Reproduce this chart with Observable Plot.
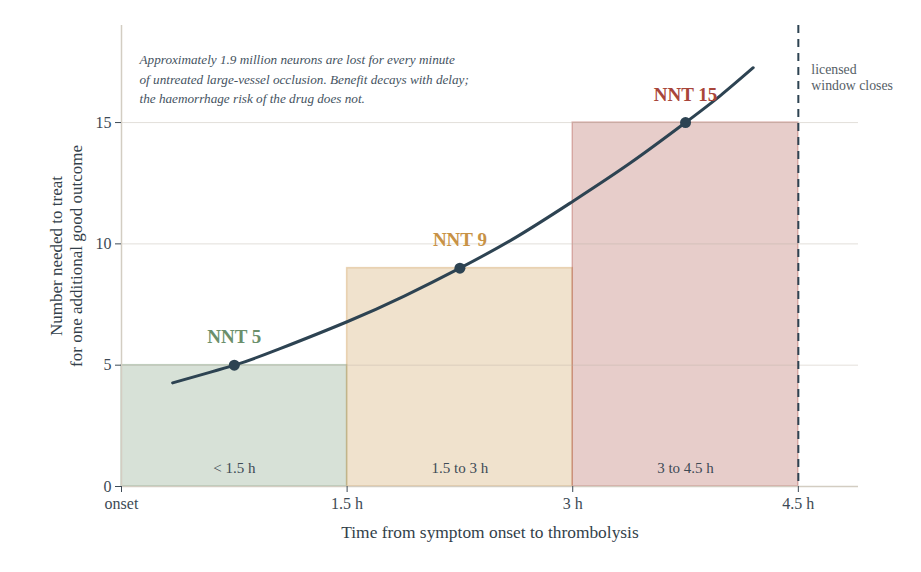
<!DOCTYPE html>
<html>
<head>
<meta charset="utf-8">
<script src="https://cdn.jsdelivr.net/npm/d3@7"></script>
<script src="https://cdn.jsdelivr.net/npm/@observablehq/plot@0.6"></script>
<style>
  html, body { margin: 0; padding: 0; background: #ffffff; }
  #chart { width: 921px; height: 572px; }
</style>
</head>
<body>
<div id="chart"></div>
<script>
// ---- data ----
const binLabels = ["< 1.5 h", "1.5 to 3 h", "3 to 4.5 h"];
const binStart = [0, 1.5, 3];
const binEnd = [1.5, 3, 4.5];
const nnt = [5, 9, 15];
const binColors = ["#6b8f6b", "#c89245", "#a8453a"];

// decay curve (hours, NNT)
const curveHours = [0.34, 0.75, 1.05, 1.5, 1.88, 2.25, 2.63, 3.0, 3.38, 3.75, 3.98, 4.2];
const curveNNT   = [4.27, 5.0, 5.67, 6.79, 7.85, 9.0, 10.3, 11.75, 13.32, 15.0, 16.1, 17.26];

const xTicks = [0, 1.5, 3, 4.5];
const xTickLabels = ["onset", "1.5 h", "3 h", "4.5 h"];
const yTicks = [0, 5, 10, 15];
const windowClose = 4.5;

const annotation = "Approximately 1.9 million neurons are lost for every minute\nof untreated large-vessel occlusion. Benefit decays with delay;\nthe haemorrhage risk of the drug does not.";
const windowNote = "licensed\nwindow closes";
const xLabel = "Time from symptom onset to thrombolysis";
const yLabel = "Number needed to treat\nfor one additional good outcome";

// ---- tables ----
const bins = binLabels.map((label, i) => ({
  label, x1: binStart[i], x2: binEnd[i], mid: (binStart[i] + binEnd[i]) / 2,
  nnt: nnt[i], color: binColors[i]
}));
const curve = curveHours.map((h, i) => ({h, v: curveNNT[i]}));

const ink = "#2d4352";
const axisColor = "#d3cdc2";
const textColor = "#3d4a55";

const chart = Plot.plot({
  width: 921,
  height: 572,
  marginTop: 25,
  marginRight: 63,
  marginBottom: 86,
  marginLeft: 121,
  style: {fontFamily: "'Liberation Serif', serif", fontSize: "16px", color: textColor, background: "#ffffff"},
  x: {domain: [0, 4.9]},
  y: {domain: [0, 19]},
  marks: [
    Plot.rect(bins, {
      x1: "x1", x2: "x2", y1: 0, y2: "nnt",
      fill: d => d.color, fillOpacity: 0.27,
      stroke: d => d.color, strokeOpacity: 0.35, strokeWidth: 1.5
    }),
    Plot.ruleY([5, 10, 15], {stroke: "#b8b2a4", strokeOpacity: 0.4, strokeWidth: 1}),
    Plot.ruleX([0], {stroke: axisColor, strokeWidth: 1.5}),
    Plot.ruleY([0], {stroke: axisColor, strokeWidth: 1.5}),
    Plot.ruleX([windowClose], {stroke: ink, strokeWidth: 2, strokeDasharray: "8,6"}),
    Plot.text([windowNote], {
      x: () => windowClose, frameAnchor: "top", dx: 13, dy: 37,
      textAnchor: "start", lineAnchor: "top", lineHeight: 1.16,
      fontSize: 13.8, fill: "#555e66"
    }),
    Plot.text([annotation], {
      frameAnchor: "top-left", dx: 18, dy: 25,
      textAnchor: "start", lineAnchor: "top", lineHeight: 1.48,
      fontSize: 13.2, fontStyle: "italic", fill: "#45535f"
    }),
    Plot.line(curve, {x: "h", y: "v", curve: "natural", stroke: ink, strokeWidth: 3}),
    Plot.dot(bins, {x: "mid", y: "nnt", r: 5.5, fill: ink}),
    Plot.text(bins, {
      x: "mid", y: "nnt", text: d => "NNT " + d.nnt, dy: -28,
      fill: d => d.color, fontWeight: "bold", fontSize: 19
    }),
    Plot.text(bins, {
      x: "mid", text: "label", frameAnchor: "bottom", dy: -14,
      fill: textColor, fontSize: 15
    }),
    Plot.axisX({
      ticks: xTicks, tickFormat: (d) => xTickLabels[xTicks.indexOf(d)],
      tickSize: 6, tickPadding: 5, stroke: textColor, fill: textColor, fontSize: 16,
      label: null
    }),
    Plot.text([xLabel], {
      frameAnchor: "bottom", dy: 46, lineAnchor: "middle",
      fontSize: 17.4, fill: "#333f4a"
    }),
    Plot.axisY({
      ticks: yTicks, tickSize: 6, tickPadding: 4, stroke: textColor, fill: textColor, fontSize: 16,
      label: null
    }),
    Plot.text([yLabel], {
      frameAnchor: "left", dx: -56, rotate: -90, textAnchor: "middle", lineAnchor: "middle", lineHeight: 1.2,
      fontSize: 17, fill: "#333f4a"
    })
  ]
});
document.getElementById("chart").appendChild(chart);
</script>
</body>
</html>
